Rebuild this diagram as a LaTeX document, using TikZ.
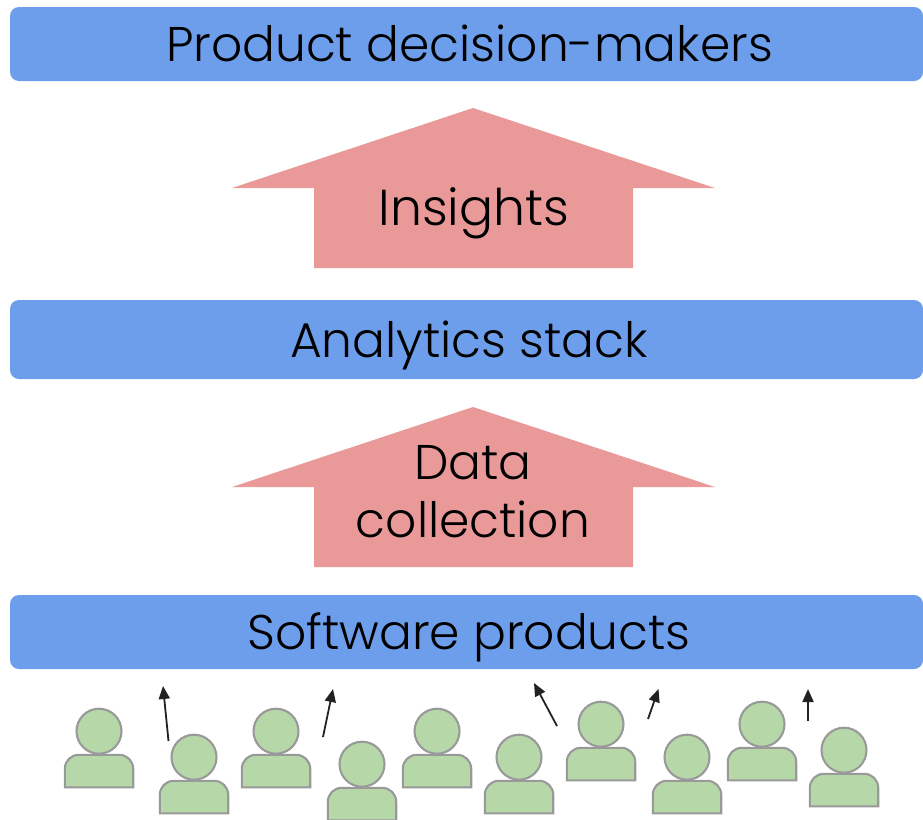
\documentclass[tikz,border=0pt]{standalone}
\usepackage{fontspec}
\setmainfont{Poppins}[UprightFont=* Light]
\usetikzlibrary{arrows.meta}
\definecolor{barblue}{HTML}{6D9EEB}
\definecolor{bigred}{HTML}{EA9999}
\definecolor{pgreen}{HTML}{B6D7A8}
\definecolor{pgrey}{HTML}{999999}
\definecolor{adark}{HTML}{222222}
\tikzset{
  x=1pt,y=-1pt,
  barbox/.style={fill=barblue,draw=none,rounded corners=9pt},
  bigarrow/.style={fill=bigred,draw=none},
  label/.style={anchor=base,inner sep=0pt,font=\fontsize{48.7}{48.7}\selectfont,text=black},
  personpart/.style={fill=pgreen,draw=pgrey,line width=2.1pt},
  move/.style={draw=adark,line width=1.8pt,-{Stealth[inset=0pt,length=13pt,width=11pt]}},
}
\newcommand{\personat}[3]{%
  \path[personpart] (#2-34.2,#3+55.3) [rounded corners=14pt] -- (#2-34.2,#3+22.8) -- (#2+34.2,#3+22.8) [sharp corners] -- (#2+34.2,#3+55.3) -- cycle;
  \node[personpart,circle,inner sep=0pt,outer sep=0pt,minimum size=45pt] (#1) at (#2,#3-0.8) {};
}
\newcommand{\bigup}[2]{%
  \path[bigarrow] (473,#2) -- (715,#2+80) -- (633,#2+80) -- (633,#2+160) -- (314,#2+160) -- (314,#2+80) -- (232,#2+80) -- cycle;
}
\begin{document}
\begin{tikzpicture}
\useasboundingbox (0,0) rectangle (923,819);
\path[barbox] (10,7) rectangle (923,81);
\path[barbox] (10,300) rectangle (923,379);
\path[barbox] (10,595) rectangle (923,669);
\bigup{a1}{108}
\bigup{a2}{407}
\node[label] (top) at (469.5,61) {Product decision-makers};
\node[label,font=\fontsize{50.5}{50.5}\selectfont] (ins) at (474,225.5) {Insights};
\node[label] (stack) at (469,357) {Analytics stack};
\node[label] (data) at (473,479.5) {Data};
\node[label] (coll) at (473,537.5) {collection};
\node[label] (soft) at (469,649) {Software products};
\personat{p1}{99}{732}
\personat{p2}{194}{758}
\personat{p3}{276}{732}
\personat{p4}{362}{765}
\personat{p5}{437}{732}
\personat{p6}{519}{758}
\personat{p7}{601}{725}
\personat{p8}{687}{758}
\personat{p9}{762}{725}
\personat{p10}{844}{751}
\coordinate (s1) at (168.5,741); \coordinate (e1) at (163,686);
\coordinate (s2) at (323,737); \coordinate (e2) at (333,689);
\coordinate (s3) at (557,726); \coordinate (e3) at (534,683);
\coordinate (s4) at (648,719); \coordinate (e4) at (658.5,689);
\coordinate (s5) at (808,721); \coordinate (e5) at (808,689);
\draw[move] (s1) -- (e1);
\draw[move] (s2) -- (e2);
\draw[move] (s3) -- (e3);
\draw[move] (s4) -- (e4);
\draw[move] (s5) -- (e5);
\end{tikzpicture}
\end{document}
